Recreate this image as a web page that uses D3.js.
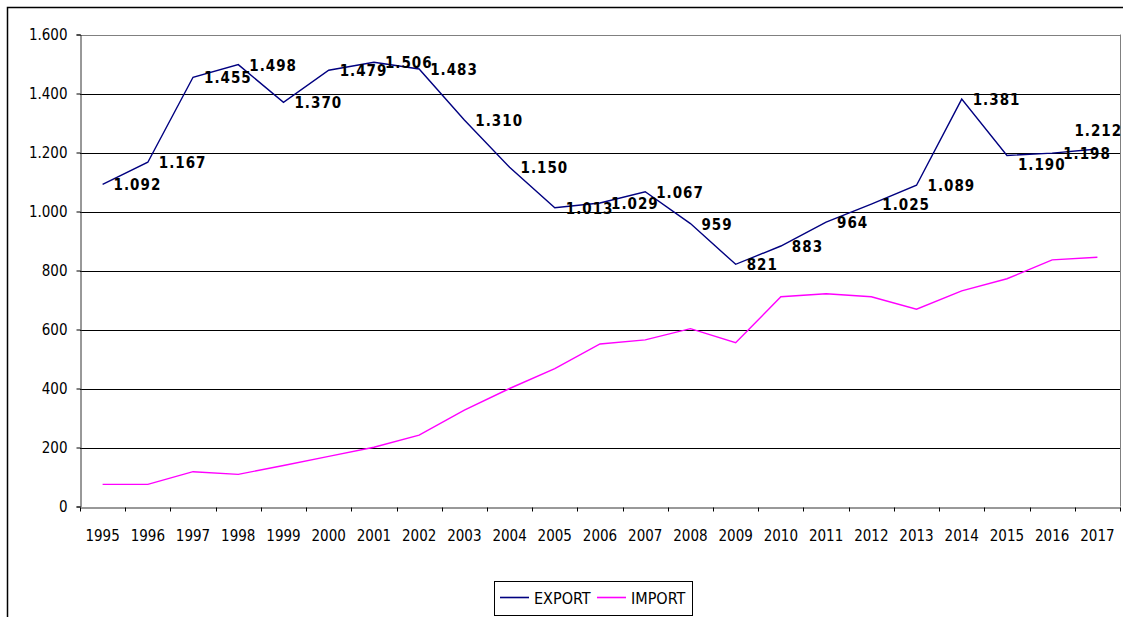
<!DOCTYPE html>
<html>
<head>
<meta charset="utf-8">
<script src="https://cdn.jsdelivr.net/npm/d3@7"></script>
<style>
body { margin: 0; background: #fff; }
text { font-family: "Liberation Sans Narrow", "Arial Narrow", "DejaVu Sans Condensed", sans-serif; fill: #000; }
</style>
</head>
<body>
<script>
"use strict";
let years = ["1995", "1996", "1997", "1998", "1999", "2000", "2001", "2002", "2003", "2004", "2005", "2006",
             "2007", "2008", "2009", "2010", "2011", "2012", "2013", "2014", "2015", "2016", "2017"]
let exportValues = [1092, 1167, 1455, 1498, 1370, 1479, 1506, 1483, 1310, 1150, 1013, 1029,
                    1067, 959, 821, 883, 964, 1025, 1089, 1381, 1190, 1198, 1212]
let importValues = [75, 75, 118, 109, 139, 170, 201, 242, 327, 400, 467, 551,
                    565, 603, 555, 711, 721, 711, 669, 731, 772, 836, 845]
let yTicks = [0, 200, 400, 600, 800, 1000, 1200, 1400, 1600]
let seriesNames = ["EXPORT", "IMPORT"]
let seriesColors = ["#000080", "#ff00ff"]

let svgContainer = d3.select("body")
                     .append("svg")
                     .attr("width", 1123)
                     .attr("height", 617)

// outer chart border (runs off the right and bottom edge)
svgContainer.append("rect")
            .attr("x", 7.5).attr("y", 7.5)
            .attr("width", 1300).attr("height", 800)
            .attr("fill", "none").attr("stroke", "#000").attr("stroke-width", 1.5)

let x = d3.scaleBand().domain(years).range([80, 1120])
let y = d3.scaleLinear().domain([0, 1600]).range([506.5, 34.5])
let dotFormat = d => d3.format(",")(d).replace(",", ".")

// gridlines
svgContainer.append("g")
            .selectAll("line")
            .data(yTicks.slice(1))
            .enter()
            .append("line")
            .attr("x1", 80).attr("x2", 1120)
            .attr("y1", d => Math.round(y(d)) + 0.5)
            .attr("y2", d => Math.round(y(d)) + 0.5)
            .attr("stroke", (d) => d == 1600 ? "#808080" : "#000")

// plot area right border
svgContainer.append("line")
            .attr("x1", 1120.5).attr("x2", 1120.5)
            .attr("y1", y(1600)).attr("y2", y(0))
            .attr("stroke", "#808080")

// y axis
let yAxis = svgContainer.append("g")
            .attr("transform", "translate(80.5,0)")
            .call(d3.axisLeft(y).tickValues(yTicks).tickSize(4).tickPadding(9).tickFormat(dotFormat))
yAxis.select(".domain").attr("stroke", "#333")
yAxis.selectAll("text").attr("font-size", 15).attr("font-family", null)

// x axis: labels at band centers, ticks at band edges
let xAxis = svgContainer.append("g")
            .attr("transform", "translate(0," + (Math.round(y(0)) + 0.5) + ")")
            .call(d3.axisBottom(x).tickSize(0).tickPadding(23))
xAxis.select(".domain").attr("stroke", "#333")
xAxis.selectAll("text").attr("font-size", 15).attr("font-family", null)
xAxis.selectAll(".edge")
     .data(years.concat(["end"]))
     .enter()
     .append("line")
     .attr("class", "edge")
     .attr("x1", d => d == "end" ? 1120.5 : Math.round(x(d)) + 0.5)
     .attr("x2", d => d == "end" ? 1120.5 : Math.round(x(d)) + 0.5)
     .attr("y1", 0).attr("y2", 4)
     .attr("stroke", "#000")

let line = d3.line()
             .x((d, i) => x(years[i]) + x.bandwidth() / 2)
             .y(d => y(d))

let series = [exportValues, importValues]
svgContainer.append("g")
            .selectAll("path")
            .data(series)
            .enter()
            .append("path")
            .attr("d", line)
            .attr("fill", "none")
            .attr("stroke", (d, i) => seriesColors[i])
            .attr("stroke-width", 1.4)

// data labels for export, right of each point; 2015 sits lower, 2017 sits above
svgContainer.append("g")
            .selectAll("text")
            .data(exportValues)
            .enter()
            .append("text")
            .attr("x", (d, i) => {
                    let cx = x(years[i]) + x.bandwidth() / 2
                    return years[i] == "2017" ? cx - 23 : cx + 11
            })
            .attr("y", (d, i) => {
                    if (years[i] == "2017") return y(d) - 13
                    if (years[i] == "2015") return y(d) + 15
                    return y(d) + 6
            })
            .attr("font-size", 15)
            .attr("font-weight", "bold")
            .attr("letter-spacing", 1)
            .text(dotFormat)

// legend
let legend = svgContainer.append("g")
legend.append("rect")
      .attr("x", 494.5).attr("y", 581.5)
      .attr("width", 198).attr("height", 34)
      .attr("fill", "#fff").attr("stroke", "#000")
let legendX = [500, 597]
seriesNames.forEach((name, i) => {
        legend.append("line")
              .attr("x1", legendX[i]).attr("x2", legendX[i] + 29)
              .attr("y1", 597.5).attr("y2", 597.5)
              .attr("stroke", seriesColors[i]).attr("stroke-width", 1.6)
        legend.append("text")
              .attr("x", legendX[i] + 34).attr("y", 603.5)
              .attr("font-size", 16)
              .text(name)
})
</script>
</body>
</html>
